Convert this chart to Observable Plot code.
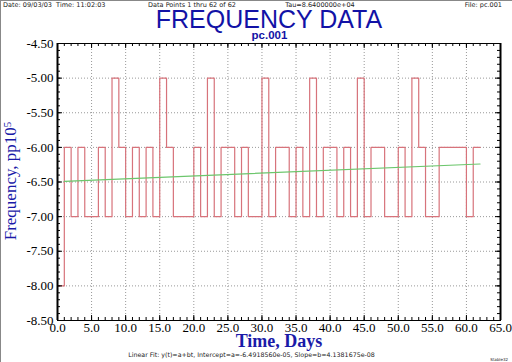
<!DOCTYPE html>
<html><head><meta charset="utf-8">
<script src="https://cdn.jsdelivr.net/npm/d3@7"></script>
<script src="https://cdn.jsdelivr.net/npm/@observablehq/plot@0.6"></script>
<style>
body{margin:0;background:#fff;}
#wrap{position:relative;width:512px;height:362px;overflow:hidden;background:#fff;box-sizing:border-box;}
#wrap svg{position:absolute;left:0;top:0;}
</style></head><body>
<div id="wrap"></div>
<script>
// Frequency values (pp10^5), one per day, step plot
const values = [
  -8, -6, -7, -6, -7, -7, -6, -7, -5, -6,
  -7, -6, -7, -6, -7, -5, -6, -7, -7, -7,
  -6, -7, -5, -7, -6, -6, -7, -6, -7, -7,
  -5, -7, -6, -6, -7, -6, -7, -5, -7, -6,
  -6, -7, -6, -7, -5, -7, -6, -6, -7, -7,
  -6, -7, -5, -6, -7, -7, -6, -6, -6, -6,
  -7, -6
];
const days = values.map((_, i) => i);
// Linear fit line end points
const fitDays = [1, 62];
const fitValues = [-6.49, -6.24];

const xTickValues = [0, 5, 10, 15, 20, 25, 30, 35, 40, 45, 50, 55, 60, 65];
const xMinorValues = d3.range(0, 66, 1);
const yTickValues = [-4.5, -5.0, -5.5, -6.0, -6.5, -7.0, -7.5, -8.0, -8.5];
const yMinorValues = d3.range(-85, -44, 1).map(d => d / 10);
const xGridValues = xTickValues.slice(1, -1);
const yGridValues = yTickValues.slice(1, -1);

const headerTexts = [
  {text: "Date: 09/03/03  Time: 11:02:03", x: 3, anchor: "start"},
  {text: "Data Points 1 thru 62 of 62", x: 192, anchor: "middle"},
  {text: "Tau=8.6400000e+04", x: 320, anchor: "middle"},
  {text: "File: pc.001", x: 502, anchor: "end"}
];
const titleText = "FREQUENCY DATA";
const subtitleText = "pc.001";
const xLabel = "Time, Days";
const yLabel = "Frequency, pp10";
const yLabelSup = "5";
const captionText = "Linear Fit: y(t)=a+bt, Intercept=a=-6.4918560e-05, Slope=b=4.1381675e-08";
const tagText = "Stable32";

const W = 512, H = 362, mL = 57, mR = 12, mT = 43, mB = 42;
const ph = H - mT - mB, pw = W - mL - mR;

const series = days.map((d, i) => ({day: d, v: values[i]}));
series.push({day: days[days.length - 1] + 1, v: values[values.length - 1]});
const fit = fitDays.map((d, i) => ({day: d, v: fitValues[i]}));

const xMajor = xMinorValues.filter(d => d % 5 === 0);
const yMajor = yMinorValues.filter(d => Math.abs(Math.round(d * 2) - d * 2) < 1e-9);

const chart = Plot.plot({
  width: W, height: H,
  marginLeft: mL, marginRight: mR, marginTop: mT, marginBottom: mB,
  style: {background: "transparent", fontFamily: "'Liberation Serif', serif", fontSize: "13px", color: "#000"},
  x: {domain: [0, 65], label: null},
  y: {domain: [-8.5, -4.5], label: null},
  marks: [
    Plot.gridX(xGridValues, {stroke: "#999", strokeOpacity: 1, strokeDasharray: "1,2"}),
    Plot.gridY(yGridValues, {stroke: "#999", strokeOpacity: 1, strokeDasharray: "1,2"}),
    Plot.line(series, {x: "day", y: "v", curve: "step-after", stroke: "#d7737b", strokeWidth: 1.2}),
    Plot.line(fit, {x: "day", y: "v", stroke: "#6cc66c", strokeWidth: 1.2}),
    Plot.tickX(xMinorValues, {x: d => d, insetTop: ph - 3, stroke: "#000"}),
    Plot.tickX(xMinorValues, {x: d => d, insetBottom: ph - 3, stroke: "#000"}),
    Plot.tickX(xMajor, {x: d => d, insetTop: ph - 5, stroke: "#000"}),
    Plot.tickX(xMajor, {x: d => d, insetBottom: ph - 5, stroke: "#000"}),
    Plot.tickY(yMinorValues, {y: d => d, insetRight: pw - 3, stroke: "#000"}),
    Plot.tickY(yMinorValues, {y: d => d, insetLeft: pw - 3, stroke: "#000"}),
    Plot.tickY(yMajor, {y: d => d, insetRight: pw - 5, stroke: "#000"}),
    Plot.tickY(yMajor, {y: d => d, insetLeft: pw - 5, stroke: "#000"}),
    Plot.frame({stroke: "#000"}),
    Plot.ruleX([0, 65], {stroke: "#000", strokeWidth: 2}),
    Plot.axisX(xTickValues, {tickSize: 0, tickPadding: 2, tickFormat: d => d.toFixed(1), label: null}),
    Plot.axisY(yTickValues, {tickSize: 0, tickPadding: 4, tickFormat: d => d.toFixed(2), label: null})
  ]
});
const wrap = document.getElementById("wrap");
wrap.appendChild(chart);

// Overlay texts
const svg = d3.select(wrap).append("svg")
  .attr("width", W).attr("height", H)
  .attr("viewBox", `0 0 ${W} ${H}`);
svg.append("line").attr("x1", 0.5).attr("x2", 0.5).attr("y1", 0).attr("y2", H).attr("stroke", "#888");
svg.append("line").attr("x1", 0).attr("x2", W).attr("y1", 0.5).attr("y2", 0.5).attr("stroke", "#888");

svg.selectAll("text.hdr").data(headerTexts).join("text")
  .attr("class", "hdr")
  .attr("x", d => d.x).attr("y", 7)
  .attr("text-anchor", d => d.anchor)
  .attr("font-family", "'DejaVu Sans', sans-serif").attr("font-size", 6.5)
  .attr("fill", "#222")
  .attr("xml:space", "preserve")
  .style("white-space", "pre")
  .text(d => d.text);

svg.append("text").attr("x", 269).attr("y", 27.5).attr("text-anchor", "middle")
  .attr("font-family", "'Liberation Sans', Arial, sans-serif").attr("font-size", 25)
  .attr("fill", "#1212a6").text(titleText);
svg.append("text").attr("x", 269.5).attr("y", 38.5).attr("text-anchor", "middle")
  .attr("font-family", "'Liberation Sans', Arial, sans-serif").attr("font-size", 11.5).attr("font-weight", "bold")
  .attr("fill", "#1212a6").text(subtitleText);

svg.append("text").attr("x", 279).attr("y", 347).attr("text-anchor", "middle")
  .attr("font-family", "'Liberation Serif', serif").attr("font-size", 18).attr("font-weight", "bold")
  .attr("fill", "#1a1aa8").text(xLabel);

const yl = svg.append("text").attr("transform", "translate(16,181) rotate(-90)")
  .attr("text-anchor", "middle")
  .attr("font-family", "'Liberation Serif', serif").attr("font-size", 17)
  .attr("fill", "#1a1aa8");
yl.append("tspan").text(yLabel);
yl.append("tspan").attr("dy", -5).attr("font-size", 11).text(yLabelSup);

svg.append("text").attr("x", 251.5).attr("y", 357).attr("text-anchor", "middle")
  .attr("font-family", "'DejaVu Sans', sans-serif").attr("font-size", 6.3)
  .attr("fill", "#222").text(captionText);
svg.append("text").attr("x", 508).attr("y", 361).attr("text-anchor", "end")
  .attr("font-family", "'DejaVu Sans', sans-serif").attr("font-size", 4)
  .attr("fill", "#222").text(tagText);
</script>
</body></html>
